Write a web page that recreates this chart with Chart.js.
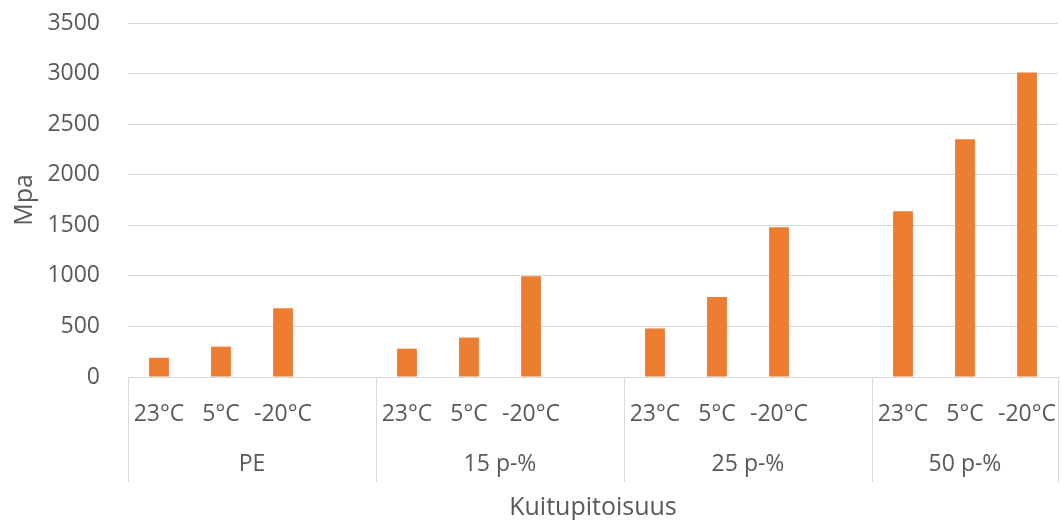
<!DOCTYPE html>
<html><head><meta charset="utf-8">
<script src="https://cdn.jsdelivr.net/npm/chart.js@4/dist/chart.umd.min.js"></script>
<style>html,body{margin:0;padding:0;background:#fff}#wrap{width:1061px;height:520px;position:relative}</style>
</head><body><div id="wrap"><canvas id="c"></canvas></div>
<script>
// ---- data ----
const groups = ["PE", "15 p-%", "25 p-%", "50 p-%"];
const groupStart = [0, 4, 8, 12];
const groupEnd = [3, 7, 11, 14];
const categories = ["23°C", "5°C", "-20°C", "",
                    "23°C", "5°C", "-20°C", "",
                    "23°C", "5°C", "-20°C", "",
                    "23°C", "5°C", "-20°C"];
const values = [190, 300, 680, null,
                280, 390, 995, null,
                480, 790, 1480, null,
                1640, 2350, 3010];
const yTicks = [0, 500, 1000, 1500, 2000, 2500, 3000, 3500];
const yTitle = "Mpa";
const xTitle = "Kuitupitoisuus";

const FONT = "'Open Sans', sans-serif";
const TXT = "#595959";
const GRID = "#d9d9d9";

const groupPlugin = {
  id: 'groups',
  afterDraw(chart) {
    const ctx = chart.ctx;
    const xs = chart.scales.x;
    const area = chart.chartArea;
    const half = (xs.getPixelForValue(1) - xs.getPixelForValue(0)) / 2;
    ctx.save();
    ctx.strokeStyle = GRID;
    ctx.lineWidth = 1;
    const edges = groupStart.map(i => xs.getPixelForValue(i) - half);
    edges.push(xs.getPixelForValue(groupEnd[groupEnd.length - 1]) + half);
    edges.forEach(x => {
      const px = Math.round(x) + 0.5;
      ctx.beginPath();
      ctx.moveTo(px, area.bottom);
      ctx.lineTo(px, area.bottom + 105);
      ctx.stroke();
    });
    ctx.fillStyle = TXT;
    ctx.font = "23px " + FONT;
    ctx.textAlign = "center";
    ctx.textBaseline = "middle";
    groups.forEach((g, k) => {
      const x0 = xs.getPixelForValue(groupStart[k]) - half;
      const x1 = xs.getPixelForValue(groupEnd[k]) + half;
      ctx.fillText(g, (x0 + x1) / 2, area.bottom + 87);
    });
    ctx.restore();
  }
};

new Chart(document.getElementById('c'), {
  type: 'bar',
  data: {
    labels: categories,
    datasets: [{
      data: values,
      backgroundColor: '#ED7D31',
      borderWidth: 0,
      categoryPercentage: 1,
      barPercentage: 0.32
    }]
  },
  plugins: [groupPlugin],
  options: {
    responsive: true,
    maintainAspectRatio: false,
    animation: false,
    layout: { padding: { top: 23, right: 3, left: 0, bottom: 0 } },
    plugins: { legend: { display: false }, tooltip: { enabled: false } },
    scales: {
      x: {
        grid: { display: false, drawTicks: false },
        border: { display: false },
        ticks: { color: TXT, font: { family: FONT, size: 23 }, padding: 24, maxRotation: 0, autoSkip: false },
        title: { display: true, text: xTitle, color: TXT, font: { family: FONT, size: 25, lineHeight: 1 }, padding: { top: 0, bottom: 0 } },
        afterFit(s) { s.height = 143; s.paddingLeft = 0; s.paddingRight = 0; s.paddingTop = 0; s.paddingBottom = 0; }
      },
      y: {
        min: 0, max: 3500,
        afterBuildTicks(s) { s.ticks = yTicks.map(v => ({ value: v })); },
        grid: { color: GRID, drawTicks: false, lineWidth: 1 },
        border: { display: false },
        ticks: { color: TXT, font: { family: FONT, size: 23 }, padding: 28, callback: v => String(v) },
        title: { display: true, text: yTitle, color: TXT, font: { family: FONT, size: 25, lineHeight: 1 }, padding: { top: 12, bottom: 0 } },
        afterFit(s) { s.width = 128; s.paddingLeft = 0; s.paddingRight = 0; s.paddingTop = 0; s.paddingBottom = 0; }
      }
    }
  }
});
</script>
</body></html>
